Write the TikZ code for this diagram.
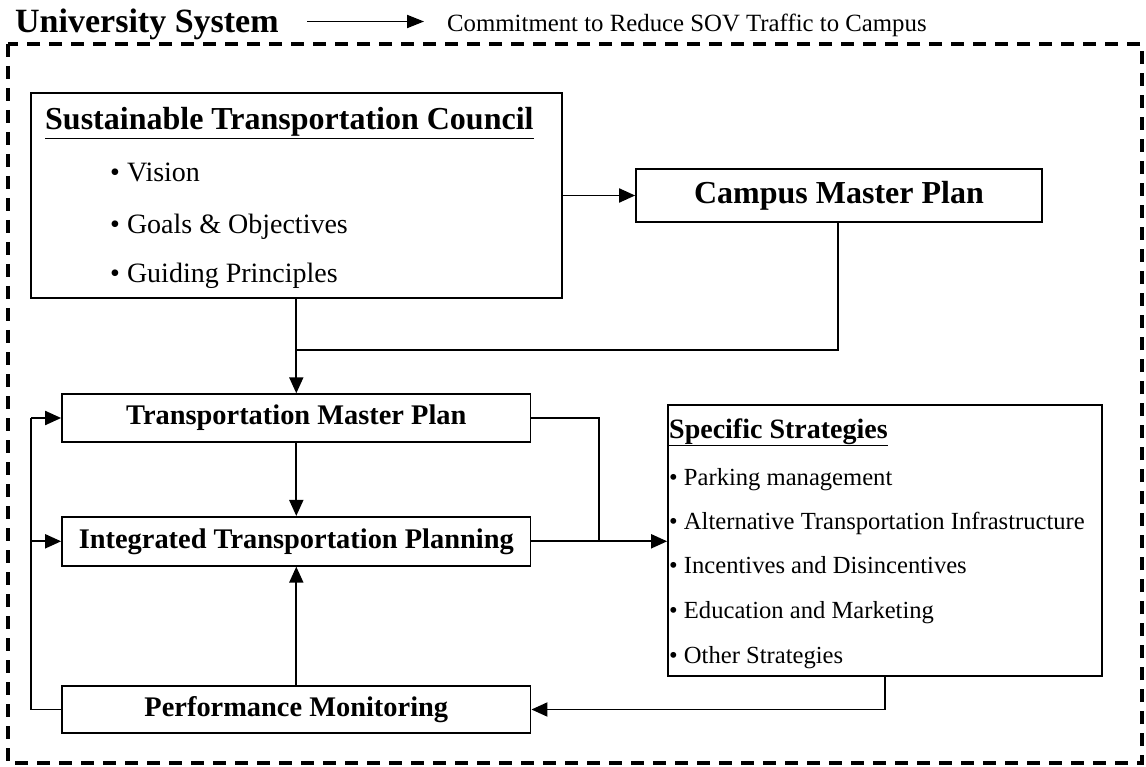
\documentclass[tikz,border=0pt]{standalone}
\usepackage{fontspec}
\setmainfont{Liberation Serif}
\usetikzlibrary{arrows.meta}
\tikzset{
  box/.style={draw, line width=1.7pt, inner sep=0pt},
  conn/.style={line width=1.9pt},
  arr/.style={conn, -{Triangle[length=16pt,width=14pt]}},
  lbl/.style={inner sep=0pt, anchor=base west},
  ctr/.style={inner sep=0pt},
}
\newcommand{\fs}[1]{\fontsize{#1}{#1}\selectfont}
\begin{document}
\begin{tikzpicture}[x=1pt,y=-1pt]
\useasboundingbox (0,0) rectangle (1146,767);
% header
\node[lbl, font=\fs{34}\bfseries] (title) at (15,33) {University System};
\node[lbl, font=\fs{24.8}] (commit) at (447,32) {Commitment to Reduce SOV Traffic to Campus};
\coordinate (a0) at (307,21.5);
\coordinate (a1) at (424,21.5);
\draw[conn, -{Triangle[length=17pt,width=13pt]}] (a0) -- (a1);
% frame
\draw[line width=3.4pt, dash pattern=on 13pt off 9pt] (8,44) rectangle (1142,763);
% boxes
\node[box, minimum width=531pt, minimum height=205pt] (stc) at (296.5,195.5) {};
\node[box, minimum width=406pt, minimum height=53pt] (cmp) at (839,195.5) {};
\node[box, minimum width=468.6pt, minimum height=47.7pt] (tmp) at (296.3,418) {};
\node[box, minimum width=468.6pt, minimum height=49pt] (itp) at (296.3,541.3) {};
\node[box, minimum width=468.6pt, minimum height=47pt] (pm) at (296.3,709.5) {};
\node[box, minimum width=434pt, minimum height=271pt] (ss) at (885,540.5) {};
% texts
\node[lbl, font=\fs{32}\bfseries] (stct) at (45,130) {\underline{Sustainable Transportation Council}};
\node[lbl, font=\fs{28}] (b1) at (110,182) {• Vision};
\node[lbl, font=\fs{28}] (b2) at (110,234) {• Goals \& Objectives};
\node[lbl, font=\fs{28}] (b3) at (110,283) {• Guiding Principles};
\node[ctr, font=\fs{32}\bfseries] (cmpt) at (cmp.center) {Campus Master Plan};
\node[ctr, font=\fs{28.4}\bfseries] (tmpt) at (tmp.center) {Transportation Master Plan};
\node[ctr, font=\fs{28.4}\bfseries] (itpt) at (itp.center) {Integrated Transportation Planning};
\node[ctr, font=\fs{28.4}\bfseries] (pmt) at (pm.center) {Performance Monitoring};
\node[lbl, font=\fs{28}\bfseries] (sst) at (669,438) {\underline{Specific Strategies}};
\node[lbl, font=\fs{24.6}] (s1) at (669,485) {• Parking management};
\node[lbl, font=\fs{24.6}] (s2) at (669,529) {• Alternative Transportation Infrastructure};
\node[lbl, font=\fs{24.6}] (s3) at (669,573) {• Incentives and Disincentives};
\node[lbl, font=\fs{24.6}] (s4) at (669,618) {• Education and Marketing};
\node[lbl, font=\fs{24.6}] (s5) at (669,663) {• Other Strategies};
% connectors
\draw[arr] (stc.east |- cmp.west) -- (cmp.west);
\draw[arr] (stc.south -| tmp.north) -- (tmp.north);
\coordinate (j1) at (838,350);
\draw[conn] (cmp.south -| j1) -- (j1) -- (j1 -| tmp.north);
\draw[arr] (tmp.south) -- (itp.north);
\draw[arr] (pm.north) -- (itp.south);
\coordinate (j2) at (599,418);
\draw[conn] (tmp.east) -- (j2) -- (j2 |- itp.east);
\draw[arr] (itp.east) -- (ss.west |- itp.east);
\draw[conn] (ss.south) -- (ss.south |- pm.east);
\draw[arr] (ss.south |- pm.east) -- (pm.east);
\coordinate (j4) at (31,709.5);
\draw[conn] (pm.west) -- (j4) -- (j4 |- tmp.west);
\draw[arr] (j4 |- tmp.west) -- (tmp.west);
\draw[arr] (j4 |- itp.west) -- (itp.west);
\end{tikzpicture}
\end{document}
